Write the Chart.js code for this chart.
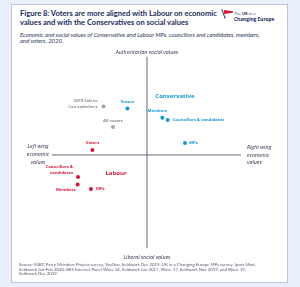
<!DOCTYPE html>
<html>
<head>
<meta charset="utf-8">
<script src="https://cdn.jsdelivr.net/npm/chart.js@4/dist/chart.umd.min.js"></script>
<style>
  body { margin: 0; background: #eaf0fb; width: 300px; height: 287px; overflow: hidden; position: relative; font-family: "Open Sans", sans-serif; }
  #card { position: absolute; left: 11px; top: 4px; width: 275px; height: 277px; background: #fff; border: 1px solid #bcc5de; }
  #title { position: absolute; left: 20px; top: 9px; font-family: Lato, sans-serif; font-weight: bold; font-size: 7.55px; line-height: 9.4px; color: #1c2a5c; white-space: nowrap; }
  #subtitle { position: absolute; left: 20px; top: 32.3px; font-family: Lato, sans-serif; font-style: italic; font-size: 5.9px; line-height: 6px; color: #2d3560; white-space: nowrap; }
  #source { position: absolute; left: 19px; top: 263px; font-family: Lato, sans-serif; font-size: 4.35px; line-height: 4.7px; color: #555b70; white-space: nowrap; }
  #logo { position: absolute; left: 223px; top: 9px; width: 60px; height: 15px; }
  #flag { position: absolute; left: 1px; top: 1px; width: 9px; height: 4px; background: #d81e3c; clip-path: polygon(0 0, 100% 30%, 100% 70%, 0 100%); }
  #pole { position: absolute; left: 0; top: 0; width: 1px; height: 10px; background: #1c2a5c; transform: rotate(-20deg); }
  #logo .t1 { position: absolute; left: 11px; top: 2px; font-size: 4px; color: #1c2a5c; white-space: nowrap; }
  #logo .t2 { position: absolute; left: 11px; top: 6.5px; font-size: 4.8px; font-weight: bold; color: #1c2a5c; white-space: nowrap; }
  canvas { position: absolute; left: 0; top: 0; }
</style>
</head>
<body>
<div id="card"></div>
<div id="title">Figure 8: Voters are more aligned with Labour on economic<br>values and with the Conservatives on social values</div>
<div id="logo"><div id="pole"></div><div id="flag"></div><div class="t1">The <b>UK</b> in a</div><div class="t2">Changing Europe</div></div>
<div id="subtitle">Economic and social values of Conservative and Labour MPs, councillors and candidates, members,<br>and voters, 2020.</div>
<canvas id="chart" width="300" height="287"></canvas>
<div id="source">Source: ESRC Party Members Project survey, YouGov, fieldwork Dec 2019; UK in a Changing Europe MPs survey, Ipsos Mori,<br>fieldwork Jan-Feb 2020; BES Internet Panel Wave 14, fieldwork Jun 2017, Wave 17, fieldwork Nov 2019, and Wave 19,<br>fieldwork Dec 2019.</div>
<script>
// Economic (x: left -> right) and social (y: liberal -> authoritarian) positions
const conNames = ["Voters", "Members", "Councillors & candidates", "MPs"];
const conEcon = [-1.03, 0.81, 1.09, 2.0];
const conSocial = [2.45, 1.96, 1.84, 0.63];

const labNames = ["Voters", "Councillors &\ncandidates", "Members", "MPs"];
const labEcon = [-2.87, -3.63, -3.65, -2.95];
const labSocial = [0.26, -1.16, -1.56, -1.79];

const otherNames = ["2019 Lab to\nCon switchers", "All voters"];
const otherEcon = [-2.29, -1.79];
const otherSocial = [2.55, 1.47];

const partyNames = ["Conservative", "Labour"];
const partyEcon = [1.47, -1.63];
const partySocial = [3.1, -0.95];

// where each point's label sits relative to its marker
const conPlace = [[0, -7, "center"], [-5, -6.5, "center"], [5, 0, "left"], [4, 0, "left"]];
const labPlace = [[0, -7, "center"], [-5, -7, "right"], [-2, 5.5, "right"], [5, 0, "left"]];
const otherPlace = [[-6, -2.5, "right"], [0, -6, "center"]];

const BLUE = "#1597d3";
const RED = "#d0173b";
const GREY = "#a3a3a3";
const INK = "#2b2f4a";

const toPoints = (xs, ys) => xs.map((x, i) => ({ x: x, y: ys[i] }));

const quadrantPlugin = {
    id: "quadrant",
    beforeDatasetsDraw(chart) {
        const { ctx, chartArea: a, scales } = chart;
        const x0 = scales.x.getPixelForValue(0);
        const y0 = scales.y.getPixelForValue(0);
        ctx.save();
        ctx.strokeStyle = "#3a3f55";
        ctx.lineWidth = 0.8;
        ctx.beginPath();
        ctx.moveTo(a.left, y0); ctx.lineTo(a.right, y0);
        ctx.moveTo(x0, a.top); ctx.lineTo(x0, a.bottom);
        ctx.stroke();

        ctx.fillStyle = INK;
        ctx.font = "italic 5.3px 'Open Sans'";
        ctx.textAlign = "center";
        ctx.textBaseline = "middle";
        ctx.fillText("Authoritarian social values", x0, a.top - 5);
        ctx.fillText("Liberal social values", x0, a.bottom + 9);

        ["Left wing", "economic", "values"].forEach((t, i) => ctx.fillText(t, a.left - 14, y0 - 8 + i * 8));
        ctx.textAlign = "left";
        ["Right wing", "economic", "values"].forEach((t, i) => ctx.fillText(t, a.right + 6, y0 - 7 + i * 7.5));
        ctx.restore();
    },
    afterDatasetsDraw(chart) {
        const { ctx, scales } = chart;
        ctx.save();
        ctx.textBaseline = "middle";
        const groups = [
            [conNames, conEcon, conSocial, conPlace, BLUE],
            [labNames, labEcon, labSocial, labPlace, RED],
            [otherNames, otherEcon, otherSocial, otherPlace, "#8a8a8a"],
        ];
        ctx.font = "bold 4.2px 'Open Sans'";
        groups.forEach(([names, xs, ys, place, color]) => {
            ctx.fillStyle = color;
            names.forEach((n, i) => {
                const px = scales.x.getPixelForValue(xs[i]) + place[i][0];
                const py = scales.y.getPixelForValue(ys[i]) + place[i][1];
                ctx.textAlign = place[i][2];
                const lines = n.split("\n");
                lines.forEach((l, j) => ctx.fillText(l, px, py + (j - (lines.length - 1) / 2) * 5.5));
            });
        });
        ctx.font = "bold 6px 'Open Sans'";
        ctx.textAlign = "center";
        partyNames.forEach((n, i) => {
            ctx.fillStyle = i === 0 ? BLUE : RED;
            ctx.fillText(n, scales.x.getPixelForValue(partyEcon[i]), scales.y.getPixelForValue(partySocial[i]));
        });
        ctx.restore();
    },
};

new Chart(document.getElementById("chart"), {
    type: "scatter",
    data: {
        datasets: [
            { label: "Conservative", data: toPoints(conEcon, conSocial), backgroundColor: BLUE, borderColor: BLUE },
            { label: "Labour", data: toPoints(labEcon, labSocial), backgroundColor: RED, borderColor: RED },
            { label: "Other", data: toPoints(otherEcon, otherSocial), backgroundColor: GREY, borderColor: GREY },
        ],
    },
    options: {
        responsive: false,
        animation: false,
        devicePixelRatio: 1,
        layout: { padding: { left: 52, right: 59, top: 57, bottom: 39 } },
        elements: { point: { radius: 2, borderWidth: 0 } },
        plugins: { legend: { display: false }, tooltip: { enabled: false } },
        scales: {
            x: { display: false, min: -5, max: 4.95 },
            y: { display: false, min: -4.9, max: 5.16 },
        },
    },
    plugins: [quadrantPlugin],
});
</script>
</body>
</html>
